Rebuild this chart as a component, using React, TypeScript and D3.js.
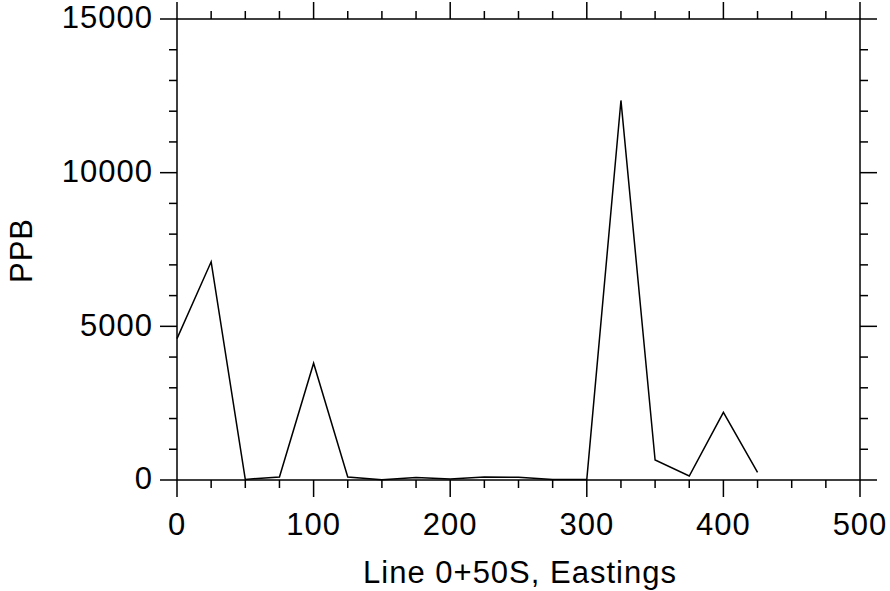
import React from "react";
import * as d3 from "d3";

const eastings = [0, 25, 50, 75, 100, 125, 150, 175, 200, 225, 250, 275, 300, 325, 350, 375, 400, 425];
const ppb = [4600, 7100, 20, 100, 3800, 100, 10, 80, 30, 100, 90, 20, 20, 12350, 650, 130, 2200, 250];
const xTicks = [0, 100, 200, 300, 400, 500];
const yTicks = [0, 5000, 10000, 15000];
const xTitle = "Line 0+50S, Eastings";
const yTitle = "PPB";

const W = 890, H = 591;
const L = 177, R = 860, T = 19, B = 480;

export default function App() {
  const x = d3.scaleLinear().domain([0, 500]).range([L, R]);
  const y = d3.scaleLinear().domain([0, 15000]).range([B, T]);
  const line = d3.line<number>().x((_, i) => x(eastings[i])).y((d) => y(d));
  const xMinor = d3.range(0, 501, 25);
  const yMinor = d3.range(0, 15001, 1000);
  const font = "'Liberation Sans', Arial, sans-serif";
  const maj = 17, min = 8;
  return (
    <svg width={W} height={H} style={{ position: "absolute", left: 0, top: 0, background: "#fff" }}>
      <g stroke="#000" strokeWidth={1.5} fill="none">
        <rect x={L} y={T} width={R - L} height={B - T} />
        {xMinor.map((v) => {
          const m = v % 100 === 0 ? maj : min;
          return (
            <g key={"x" + v}>
              <line x1={x(v)} x2={x(v)} y1={B} y2={B + m} />
              <line x1={x(v)} x2={x(v)} y1={T} y2={T - m} />
            </g>
          );
        })}
        {yMinor.map((v) => {
          const m = v % 5000 === 0 ? maj : min;
          return (
            <g key={"y" + v}>
              <line x1={L} x2={L - m} y1={y(v)} y2={y(v)} />
              <line x1={R} x2={R + m} y1={y(v)} y2={y(v)} />
            </g>
          );
        })}
        <path d={line(ppb) || ""} strokeWidth={1.5} strokeLinejoin="miter" />
      </g>
      <g fontFamily={font} fontSize={31} letterSpacing={1} fill="#000">
        {xTicks.map((v) => (
          <text key={v} x={x(v)} y={535} textAnchor="middle">{v}</text>
        ))}
        {yTicks.map((v) => (
          <text key={v} x={153} y={y(v) + 9.3} textAnchor="end">{v}</text>
        ))}
        <text x={520} y={583} textAnchor="middle">{xTitle}</text>
        <text transform={`translate(32,250.5) rotate(-90)`} textAnchor="middle">{yTitle}</text>
      </g>
    </svg>
  );
}
